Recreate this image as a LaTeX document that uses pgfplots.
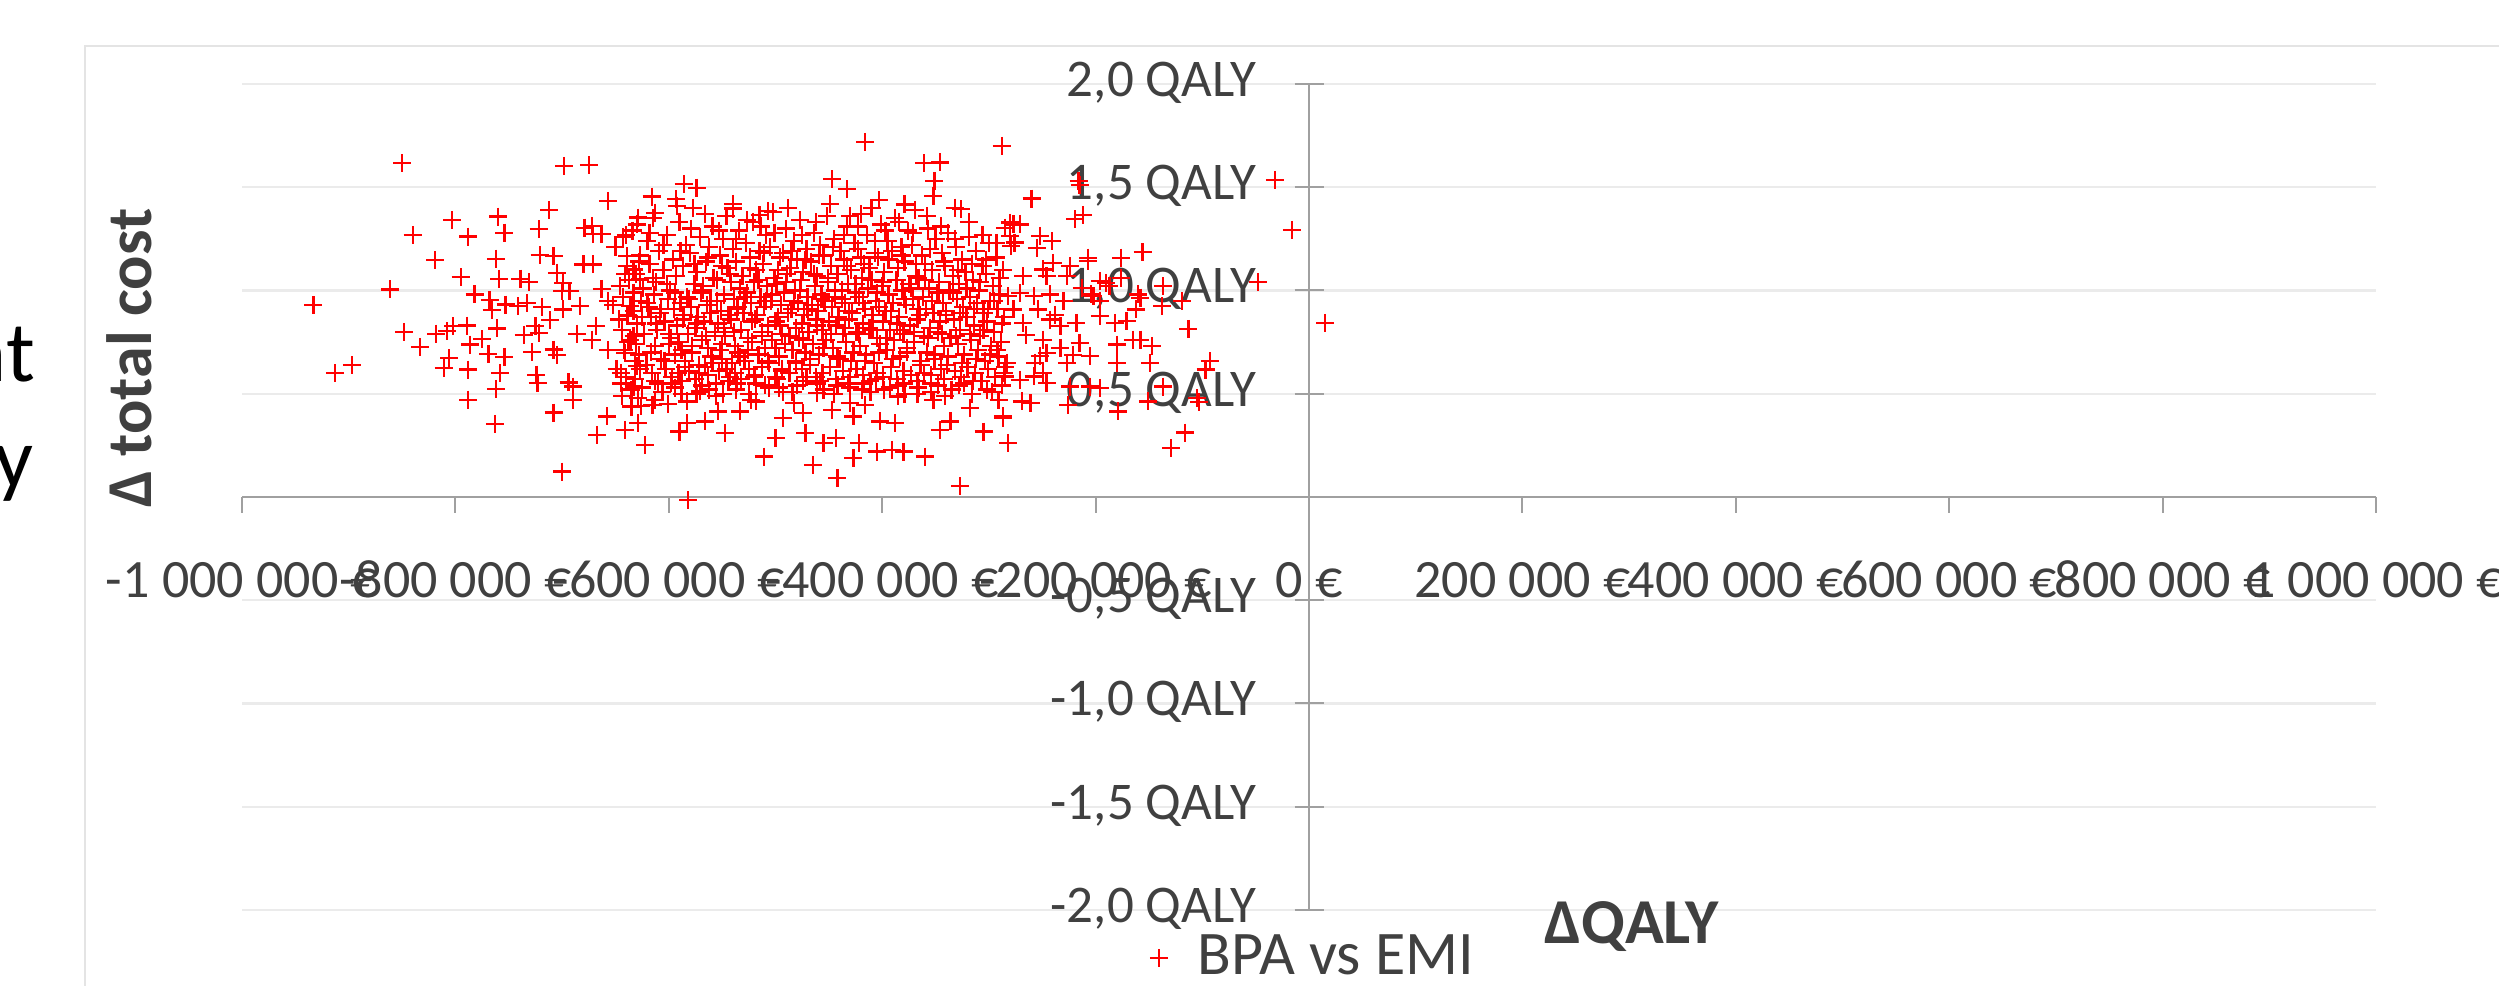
\documentclass[border=0pt]{standalone}
\usepackage{fontspec}
\setmainfont{Carlito}
\usepackage{pgfplots}
\pgfplotsset{compat=1.18}
\pgfplotsset{mylegimg/.style={legend image code/.code={\draw[mark repeat=2,mark phase=2,##1] plot coordinates {(0pt,0pt)(4pt,0pt)(8pt,0pt)};}}}
\definecolor{txt}{HTML}{404040}
\definecolor{axisgray}{HTML}{A0A0A0}
\definecolor{gridgray}{HTML}{EBEBEB}
\definecolor{bordergray}{HTML}{E4E4E4}
\begin{document}
\begin{tikzpicture}[x=0.2pt,y=0.2pt]
\useasboundingbox (0,0) rectangle (2499,986);
\draw[bordergray, line width=0.4pt] (85,-20) -- (85,940) -- (2520,940);
\node[anchor=base east, inner sep=0pt, font=\fontsize{17.2}{20}\selectfont] at (36,604) {at};
\node[anchor=base east, inner sep=0pt, font=\fontsize{17.2}{20}\selectfont] at (34,498) {y};
\begin{axis}[
  at={(48.4pt,15.2pt)}, anchor=south west,
  scale only axis, width=426.8pt, height=165.2pt,
  xmin=-1000, xmax=1000, ymin=-2, ymax=2,
  axis lines=middle,
  axis line style={axisgray, line width=0.4pt, -},
  every inner x axis line/.append style={-},
  every inner y axis line/.append style={-},
  xtick={-1000,-800,-600,-400,-200,0,200,400,600,800,1000},
  xticklabels={{-1 000 000 €},{-800 000 €},{-600 000 €},{-400 000 €},{-200 000 €},{0 €},{200 000 €},{400 000 €},{600 000 €},{800 000 €},{1 000 000 €}},
  extra x ticks={0},
  extra x tick labels={0 €},
  ytick={-2,-1.5,-1,-0.5,0,0.5,1,1.5,2},
  yticklabels={{-2,0 QALY},{-1,5 QALY},{-1,0 QALY},{-0,5 QALY},{0,0 QALY},{0,5 QALY},{1,0 QALY},{1,5 QALY},{2,0 QALY}},
  ymajorgrids, grid style={gridgray, line width=0.45pt},
  xtick align=outside, ytick align=center,
  major tick length=3.2pt,
  tick style={axisgray, line width=0.4pt},
  ytick style={/pgfplots/major tick length=5.8pt},
  xticklabel style={anchor=base, inner sep=0pt, yshift=-17pt, font=\fontsize{10.8}{12}\selectfont, text=txt},
  yticklabel style={anchor=base east, inner sep=0pt, xshift=-8.8pt, yshift=-2.5pt, font=\fontsize{10.6}{12}\selectfont, text=txt},
  ylabel={\textbf{Δ total cost}},
  every axis y label/.style={at={(rel axis cs:-0.0422,0.668)}, rotate=90, anchor=base, inner sep=0pt, font=\fontsize{12.8}{15}\selectfont, text=txt},
  xlabel={\textbf{ΔQALY}},
  every axis x label/.style={at={(rel axis cs:0.6097,-0.040)}, anchor=base west, inner sep=0pt, font=\fontsize{12.8}{15}\selectfont, text=txt},
  legend style={at={(rel axis cs:0.425,-0.058)}, anchor=west, draw=none, fill=none, inner sep=0pt, font=\fontsize{12.4}{15}\selectfont, text=txt, /tikz/every odd column/.append style={column sep=4pt}},
]
\addplot[only marks, mark=+, red, mark size=1.8pt, mark options={line width=0.45pt}, mylegimg]
coordinates {
(-850,1.617)(-698,1.603)(-675,1.607)(-933,0.929)(-913,0.600)(-897,0.638)(-861,1.005)(-848,0.799)(-840,1.267)(-833,0.727)
(-819,1.147)(-803,1.340)(-788,1.261)(-795,1.065)(-782,0.981)(-818,0.791)(-808,0.803)(-802,0.827)(-789,0.830)(-806,0.673)
(-811,0.625)(-788,0.617)(-786,0.738)(-775,0.765)(-788,0.471)(-763,0.354)(-768,0.953)(-766,0.904)(-760,1.358)(-754,1.280)
(-762,1.154)(-759,1.057)(-761,0.816)(-769,0.693)(-754,0.678)(-758,0.600)(-762,0.524)(-753,0.932)(-741,0.924)(-733,0.940)
(-739,1.057)(-731,1.040)(-722,1.296)(-712,1.390)(-721,1.171)(-719,0.921)(-711,0.856)(-725,0.827)(-736,0.786)(-722,0.795)
(-728,0.701)(-724,0.592)(-723,0.552)(-708,0.409)(-700,0.123)(-705,0.689)(-708,0.714)(-699,0.908)(-708,1.167)(-705,1.086)
(-699,1.037)(-700,0.997)(-693,0.997)(-694,0.555)(-690,0.535)(-690,0.471)(-686,0.791)(-683,0.924)(-680,1.126)(-671,1.126)
(-679,1.304)(-672,1.312)(-671,1.272)(-663,1.272)(-657,1.434)(-663,1.008)(-668,0.827)(-672,0.762)(-657,0.710)(-658,0.390)
(-667,0.301)(-657,0.948)(-640,1.267)(-629,1.353)(-616,1.455)(-613,1.377)(-639,1.167)(-636,0.924)(-633,0.778)(-641,0.698)
(-633,0.535)(-635,0.438)(-641,0.325)(-629,0.358)(-622,0.252)(-616,0.447)(-633,1.102)(-627,1.053)(-639,0.875)(-630,0.633)
(-416,1.720)(-288,1.700)(-361,1.617)(-346,1.620)(-351,1.531)(-447,1.539)(-433,1.490)(-403,1.438)(-379,1.417)(-332,1.401)
(-326,1.393)(-352,1.458)(-586,1.515)(-574,1.498)(-593,1.442)(-540,1.397)(-507,1.385)(-515,1.364)(-430,1.361)(-280,1.329)
(-285,1.304)(-276,1.232)(-582,-0.015)(-327,0.053)(-442,0.091)(-465,0.155)(-511,0.196)(-500,0.285)(-547,0.309)(-590,0.317)
(-282,0.261)(-305,0.317)(-360,0.196)(-380,0.220)(-391,0.228)(-405,0.220)(-427,0.188)(-422,0.261)(-443,0.285)(-455,0.261)
(-472,0.309)(-427,0.390)(-447,0.422)(-402,0.366)(-388,0.358)(-346,0.325)(-336,0.366)(-287,0.382)(-291,0.471)(-318,0.431)
(-474,0.406)(-493,0.382)(-533,0.414)(-554,0.414)(-566,0.366)(-583,0.358)(-583,0.463)(-571,0.511)(-615,0.447)(-518,0.463)
(-483,0.455)(-461,0.503)(-430,0.455)(-416,0.447)(-385,0.487)(-352,0.471)
(-216,1.531)(-215,1.510)(-260,1.445)(-212,1.364)(-219,1.345)(-32,1.536)(-16,1.293)(15,0.843)(-48,1.040)(-156,1.186)
(-176,1.159)(-207,1.159)(-137,1.021)(-113,0.814)(-93,0.657)(-97,0.617)(-105,0.479)(-103,0.460)(-116,0.312)(-129,0.236)
(-137,0.535)(-151,0.463)(-149,0.649)(-147,0.730)(-158,0.762)(-180,0.738)(-180,0.649)(-179,0.414)(-138,0.924)(-158,0.965)
(-171,0.851)(-182,0.843)(-196,0.875)(-196,0.948)(-160,0.981)(-176,1.062)(-190,1.037)(-207,1.142)(-224,1.118)(-241,1.239)
(-252,1.264)(-277,1.320)(-271,1.320)(-255,1.207)(-279,1.215)(-240,1.134)(-249,1.102)(-213,1.013)(-202,0.972)(-230,0.948)
(-243,0.981)(-258,0.972)(-271,0.989)(-282,0.972)(-277,0.908)(-254,0.908)(-238,0.883)(-218,0.843)(-233,0.827)(-249,0.762)
(-265,0.786)(-246,0.698)(-252,0.681)(-233,0.722)(-221,0.689)(-205,0.681)(-258,0.584)(-246,0.552)(-224,0.535)(-226,0.447)
(-205,0.535)(-196,0.528)(-269,0.463)(-287,0.390)(-285,0.584)(-283,0.649)(-261,0.455)(-165,0.762)(-187,1.021)(-196,1.045)
(-204,0.981)(-162,0.908)(-119,0.948)(-227,1.069)(-246,1.069)(-268,1.069)(-280,1.264)(-243,0.859)(-268,0.843)(-215,0.746)
(-227,0.649)(-257,0.649)(-271,0.568)(-249,0.600)
(-650,1.21)(-646,1.02)(-652,0.93)(-644,0.81)(-649,0.62)(-645,0.55)
(-639,1.12)(-643,0.97)(-638,0.88)(-642,0.71)(-640,0.58)(-644,0.49)
(-634,1.29)(-637,1.05)(-633,0.90)(-636,0.76)(-632,0.66)(-635,0.52)
(-627,1.17)(-631,1.08)(-626,0.95)(-630,0.84)(-628,0.69)(-632,0.57)(-626,0.44)
(-620,1.24)(-624,1.01)(-619,0.92)(-623,0.79)(-621,0.64)(-625,0.53)
(-615,1.35)(-618,1.13)(-614,0.98)(-617,0.87)(-613,0.73)(-616,0.60)
(-609,1.19)(-612,1.04)(-608,0.89)(-611,0.81)(-607,0.67)(-610,0.55)(-613,0.47)
(-602,1.27)(-605,1.10)(-601,0.96)(-604,0.85)(-600,0.74)(-603,0.62)(-606,0.51)
(-596,1.15)(-599,1.00)(-595,0.91)(-598,0.77)(-594,0.69)(-597,0.58)
(-590,1.33)(-593,1.07)(-589,0.94)(-592,0.83)(-588,0.71)(-591,0.60)(-594,0.53)
(-584,1.22)(-587,1.12)(-583,0.97)(-586,0.88)(-582,0.79)(-585,0.66)(-588,0.56)
(-577,1.40)(-580,1.18)(-576,1.03)(-579,0.92)(-575,0.82)(-578,0.70)(-581,0.61)(-574,0.50)
(-571,1.26)(-574,1.09)(-570,0.99)(-573,0.87)(-569,0.76)(-572,0.64)(-575,0.57)
(-565,1.14)(-568,1.02)(-564,0.93)(-567,0.85)(-563,0.72)(-566,0.63)(-569,0.54)
(-559,1.31)(-562,1.21)(-558,1.06)(-561,0.95)(-557,0.80)(-560,0.68)(-563,0.59)(-556,0.49)
(-552,1.17)(-555,1.05)(-551,0.90)(-554,0.84)(-550,0.74)(-553,0.61)(-556,0.55)
(-546,1.36)(-549,1.25)(-545,1.11)(-548,0.98)(-544,0.88)(-547,0.78)(-550,0.67)(-543,0.58)
(-540,1.20)(-543,1.08)(-539,0.96)(-542,0.86)(-538,0.73)(-541,0.65)(-544,0.56)(-537,0.52)
(-534,1.29)(-537,1.14)(-533,1.01)(-536,0.91)(-532,0.81)(-535,0.70)(-538,0.60)
(-528,1.23)(-531,1.07)(-527,0.99)(-530,0.89)(-526,0.77)(-529,0.66)(-532,0.57)(-525,0.50)
(-521,1.33)(-524,1.16)(-520,1.04)(-523,0.94)(-519,0.86)(-522,0.75)(-525,0.62)(-518,0.55)
(-515,1.19)(-518,1.10)(-514,0.97)(-517,0.88)(-513,0.80)(-516,0.69)(-519,0.59)
(-509,1.27)(-512,1.13)(-508,1.02)(-511,0.92)(-507,0.83)(-510,0.72)(-513,0.63)(-506,0.53)
(-502,1.38)(-505,1.21)(-501,1.06)(-504,0.95)(-500,0.85)(-503,0.76)(-506,0.65)(-499,0.57)
(-496,1.16)(-499,1.03)(-495,0.93)(-498,0.87)(-494,0.79)(-497,0.68)(-500,0.58)(-493,0.51)
(-490,1.30)(-493,1.18)(-489,1.08)(-492,0.99)(-488,0.89)(-491,0.74)(-494,0.61)
(-483,1.24)(-486,1.11)(-482,1.00)(-485,0.91)(-481,0.82)(-484,0.71)(-487,0.60)(-480,0.54)
(-477,1.34)(-480,1.15)(-476,1.05)(-479,0.94)(-475,0.84)(-478,0.77)(-481,0.66)(-474,0.56)
(-471,1.20)(-474,1.09)(-470,0.97)(-473,0.88)(-469,0.80)(-472,0.70)(-475,0.62)
(-464,1.28)(-467,1.14)(-463,1.02)(-466,0.93)(-462,0.86)(-465,0.74)(-468,0.64)(-461,0.55)
(-458,1.22)(-461,1.07)(-457,0.98)(-460,0.90)(-456,0.81)(-459,0.69)(-462,0.58)(-455,0.52)
(-452,1.36)(-455,1.17)(-451,1.04)(-454,0.95)(-450,0.85)(-453,0.76)(-456,0.60)
(-445,1.25)(-448,1.12)(-444,1.00)(-447,0.92)(-443,0.83)(-446,0.72)(-449,0.63)(-442,0.54)
(-439,1.19)(-442,1.08)(-438,0.96)(-441,0.87)(-437,0.79)(-440,0.67)(-443,0.57)
(-433,1.31)(-436,1.15)(-432,1.03)(-435,0.94)(-431,0.86)(-434,0.75)(-437,0.61)(-430,0.53)
(-426,1.23)(-429,1.10)(-425,0.99)(-428,0.89)(-424,0.80)(-427,0.70)(-430,0.58)
(-420,1.37)(-423,1.20)(-419,1.06)(-422,0.97)(-418,0.84)(-421,0.73)(-424,0.62)(-417,0.55)
(-414,1.27)(-417,1.13)(-413,1.01)(-416,0.91)(-412,0.82)(-415,0.69)(-418,0.59)(-411,0.51)
(-407,1.18)(-410,1.05)(-406,0.95)(-409,0.88)(-405,0.77)(-408,0.65)(-411,0.56)
(-401,1.32)(-404,1.16)(-400,1.02)(-403,0.92)(-399,0.85)(-402,0.74)(-405,0.60)(-398,0.52)
(-395,1.24)(-398,1.09)(-394,0.98)(-397,0.90)(-393,0.81)(-396,0.71)(-399,0.58)
(-388,1.35)(-391,1.19)(-387,1.05)(-390,0.94)(-386,0.84)(-389,0.76)(-392,0.63)(-385,0.54)
(-382,1.21)(-385,1.11)(-381,1.00)(-384,0.87)(-380,0.79)(-383,0.68)(-386,0.57)(-379,0.50)
(-376,1.29)(-379,1.14)(-375,1.03)(-378,0.93)(-374,0.83)(-377,0.72)(-380,0.61)
(-369,1.39)(-372,1.22)(-368,1.07)(-371,0.96)(-367,0.86)(-370,0.75)(-373,0.59)(-366,0.53)
(-363,1.17)(-366,1.06)(-362,0.97)(-365,0.88)(-361,0.78)(-364,0.66)(-367,0.56)
(-357,1.30)(-360,1.13)(-356,1.01)(-359,0.91)(-355,0.82)(-358,0.70)(-361,0.60)(-354,0.51)
(-350,1.25)(-353,1.10)(-349,0.99)(-352,0.89)(-348,0.80)(-351,0.67)(-354,0.55)
(-344,1.18)(-347,1.04)(-343,0.94)(-346,0.85)(-342,0.73)(-345,0.62)(-348,0.54)
(-338,1.28)(-341,1.12)(-337,1.00)(-340,0.90)(-336,0.77)(-339,0.64)(-342,0.57)
(-331,1.21)(-334,1.07)(-330,0.96)(-333,0.86)(-329,0.74)(-332,0.61)(-335,0.52)
(-325,1.15)(-328,1.03)(-324,0.92)(-327,0.81)(-323,0.69)(-326,0.58)
(-319,1.26)(-322,1.09)(-318,0.97)(-321,0.87)(-317,0.76)(-320,0.63)(-323,0.55)
(-312,1.19)(-315,1.05)(-311,0.94)(-314,0.83)(-310,0.71)(-313,0.60)(-316,0.50)
(-306,1.12)(-309,1.00)(-305,0.89)(-308,0.78)(-304,0.66)(-307,0.56)
(-300,1.23)(-303,1.08)(-299,0.95)(-302,0.85)(-298,0.73)(-301,0.62)
(-293,1.16)(-296,1.02)(-292,0.91)(-295,0.80)(-291,0.68)(-294,0.58)(-297,0.51)
(-287,1.10)(-290,0.98)(-286,0.87)(-289,0.75)(-285,0.63)(-288,0.54)
(-643,1.26)(-641,1.08)(-647,0.86)(-638,0.75)(-645,0.60)
(-630,1.32)(-628,1.14)(-633,0.99)(-625,0.87)(-631,0.74)(-627,0.62)(-629,0.48)
(-618,1.28)(-615,1.06)(-620,0.94)(-612,0.84)(-617,0.70)(-613,0.56)
(-605,1.22)(-602,1.03)(-607,0.91)(-600,0.79)(-604,0.66)(-598,0.55)(-601,0.45)
(-592,1.41)(-589,1.19)(-594,0.99)(-587,0.86)(-591,0.75)(-585,0.63)(-588,0.50)
(-579,1.30)(-576,1.13)(-581,0.96)(-574,0.84)(-578,0.73)(-572,0.60)
(-566,1.37)(-563,1.16)(-568,1.00)(-561,0.89)(-565,0.78)(-559,0.65)(-562,0.52)
(-553,1.29)(-550,1.12)(-555,0.95)(-548,0.82)(-552,0.71)(-546,0.62)(-549,0.50)
(-540,1.42)(-537,1.25)(-542,1.04)(-535,0.92)(-539,0.80)(-533,0.68)(-536,0.55)
(-527,1.34)(-524,1.11)(-529,0.97)(-522,0.85)(-526,0.71)(-520,0.58)(-523,0.47)
(-514,1.31)(-511,1.18)(-516,1.05)(-509,0.95)(-513,0.78)(-507,0.66)(-510,0.54)
(-501,1.28)(-498,1.10)(-503,0.98)(-496,0.83)(-500,0.72)(-494,0.62)(-497,0.53)
(-488,1.40)(-485,1.19)(-490,1.04)(-483,0.95)(-487,0.78)(-481,0.65)(-484,0.51)
(-475,1.27)(-472,1.15)(-477,1.00)(-470,0.91)(-474,0.76)(-468,0.67)(-471,0.58)
(-462,1.33)(-459,1.17)(-464,1.08)(-457,0.96)(-461,0.83)(-455,0.72)(-458,0.56)
(-449,1.42)(-446,1.21)(-451,1.06)(-444,0.97)(-448,0.79)(-442,0.68)(-445,0.50)
(-436,1.27)(-433,1.12)(-438,1.00)(-431,0.90)(-435,0.82)(-429,0.66)(-432,0.55)
(-423,1.31)(-420,1.16)(-425,1.03)(-418,0.94)(-422,0.79)(-416,0.66)(-419,0.52)
(-410,1.40)(-407,1.24)(-412,1.11)(-405,0.99)(-409,0.81)(-403,0.70)(-406,0.57)
(-397,1.29)(-394,1.15)(-399,1.04)(-392,0.90)(-396,0.77)(-390,0.67)(-393,0.53)
(-384,1.33)(-381,1.17)(-386,1.05)(-379,0.96)(-383,0.81)(-377,0.70)(-380,0.55)
(-371,1.28)(-368,1.13)(-373,1.01)(-366,0.91)(-370,0.80)(-364,0.64)(-367,0.50)
(-358,1.36)(-355,1.20)(-360,1.05)(-353,0.95)(-357,0.77)(-351,0.69)(-354,0.59)
(-345,1.31)(-342,1.14)(-347,0.99)(-340,0.88)(-344,0.79)(-338,0.68)(-341,0.49)
(-332,1.25)(-329,1.10)(-334,0.99)(-327,0.89)(-331,0.78)(-325,0.65)(-328,0.54)
(-319,1.33)(-316,1.13)(-321,1.01)(-314,0.91)(-318,0.79)(-312,0.67)(-315,0.56)
(-306,1.27)(-303,1.15)(-308,1.04)(-301,0.91)(-305,0.81)(-299,0.69)(-302,0.52)
(-293,1.23)(-290,1.06)(-295,0.95)(-288,0.84)(-292,0.71)(-286,0.60)
};
\addlegendentry{BPA vs EMI}
\end{axis}
\end{tikzpicture}
\end{document}
